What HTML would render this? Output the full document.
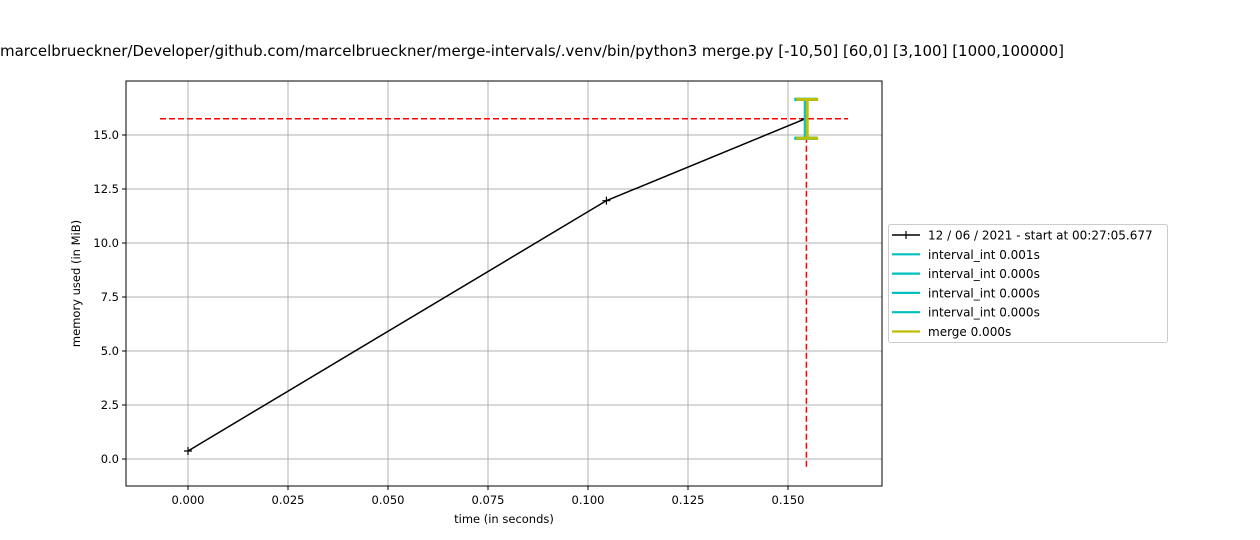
<!DOCTYPE html>
<html><head><meta charset="utf-8"><style>body{margin:0;background:#fff}svg{display:block;font-family:"DejaVu Sans","Liberation Sans",sans-serif}</style></head>
<body>
<svg id="c" width="1260" height="540"></svg>
<script>
const xTicks=[0,0.025,0.05,0.075,0.1,0.125,0.15];
const xTickLabels=["0.000","0.025","0.050","0.075","0.100","0.125","0.150"];
const yTicks=[0,2.5,5,7.5,10,12.5,15];
const yTickLabels=["0.0","2.5","5.0","7.5","10.0","12.5","15.0"];
const times=[0,0.1046,0.1543];
const mem=[0.37,11.96,15.75];
const maxMem=15.75, maxTime=0.1546;
const bracketTimes=[0.1543,0.1545,0.1546,0.1547,0.1548];
const bracketTop=[16.65,16.65,16.65,16.65,16.65];
const bracketBottom=[14.85,14.85,14.85,14.85,14.85];
const bracketColors=["#17becf","#00bfbf","#00bfbf","#00bfbf","#bfbf00"];
const legendLabels=["12 / 06 / 2021 - start at 00:27:05.677","interval_int 0.001s","interval_int 0.000s","interval_int 0.000s","interval_int 0.000s","merge 0.000s"];
const legendColors=["#000","#00bfbf","#00bfbf","#00bfbf","#00bfbf","#bfbf00"];
const X=v=>188+4000*v, Y=v=>459-21.6*v;
const L=126,R=882,T=81,B=486;
const s=document.getElementById('c'),NS='http://www.w3.org/2000/svg';
function el(t,a,txt){const e=document.createElementNS(NS,t);for(const k in a)e.setAttribute(k,a[k]);if(txt!=null)e.textContent=txt;s.appendChild(e);return e;}
let e;
e=el('text',{x:1064,y:56,'text-anchor':'end','font-size':15,fill:'#000',textLength:1064,lengthAdjust:'spacingAndGlyphs'},'marcelbrueckner/Developer/github.com/marcelbrueckner/merge-intervals/.venv/bin/python3 merge.py [-10,50] [60,0] [3,100] [1000,100000]');


xTicks.forEach((v,i)=>{
 e=el('line',{x1:X(v),x2:X(v),y1:T,y2:B,stroke:'#b0b0b0','stroke-width':1});
 
 
 el('line',{x1:X(v),x2:X(v),y1:B,y2:B+4,stroke:'#000'});
 e=el('text',{x:X(v),y:B+18,'text-anchor':'middle','font-size':11.5},xTickLabels[i]);
 
 
});
yTicks.forEach((v,i)=>{
 e=el('line',{x1:L,x2:R,y1:Y(v),y2:Y(v),stroke:'#b0b0b0','stroke-width':1});
 
 
 el('line',{x1:L-4,x2:L,y1:Y(v),y2:Y(v),stroke:'#000'});
 e=el('text',{x:L-7,y:Y(v)+4,'text-anchor':'end','font-size':11.5},yTickLabels[i]);
 
 
});
e=el('line',{x1:160,x2:848,y1:Y(maxMem),y2:Y(maxMem),stroke:'#f00','stroke-width':1.5,'stroke-dasharray':'6,3'});


e=el('line',{x1:X(maxTime),x2:X(maxTime),y1:Y(maxMem),y2:Y(-0.4),stroke:'#f00','stroke-width':1.5,'stroke-dasharray':'6,3'});


e=el('polyline',{points:times.map((t,i)=>X(t)+','+Y(mem[i])).join(' '),fill:'none',stroke:'#000','stroke-width':1.5});


times.forEach((t,i)=>{
 e=el('path',{d:`M${X(t)-4},${Y(mem[i])}h8M${X(t)},${Y(mem[i])-4}v8`,stroke:'#000','stroke-width':1.2});
 
 
});
bracketTimes.forEach((t,i)=>{
 const x=X(t),c=bracketColors[i];
 e=el('path',{d:`M${x-11},${Y(bracketTop[i])}h22M${x-11},${Y(bracketBottom[i])}h22M${x},${Y(bracketTop[i])}V${Y(bracketBottom[i])}`,stroke:c,'stroke-width':3,fill:'none'});
 
 
});
e=el('rect',{x:L,y:T,width:R-L,height:B-T,fill:'none',stroke:'#000','stroke-width':1});


e=el('text',{x:(L+R)/2,y:523,'text-anchor':'middle','font-size':11.5},'time (in seconds)');


e=el('text',{x:0,y:0,'text-anchor':'middle','font-size':11.5,transform:`translate(80,${(T+B)/2}) rotate(-90)`},'memory used (in MiB)');


e=el('rect',{x:888.5,y:224.5,width:279,height:118,rx:2,fill:'#fff',stroke:'#ccc'});


legendLabels.forEach((lab,i)=>{
 const y=235+19.3*i;
 e=el('line',{x1:892,x2:920,y1:y,y2:y,stroke:legendColors[i],'stroke-width':i?2.2:1.5});
 
 
 if(i===0)el('line',{x1:906,x2:906,y1:y-4,y2:y+4,stroke:'#000','stroke-width':1.2});
 e=el('text',{x:928,y:y+4.5,'font-size':12},lab);
 
 
});
</script>
</body></html>
